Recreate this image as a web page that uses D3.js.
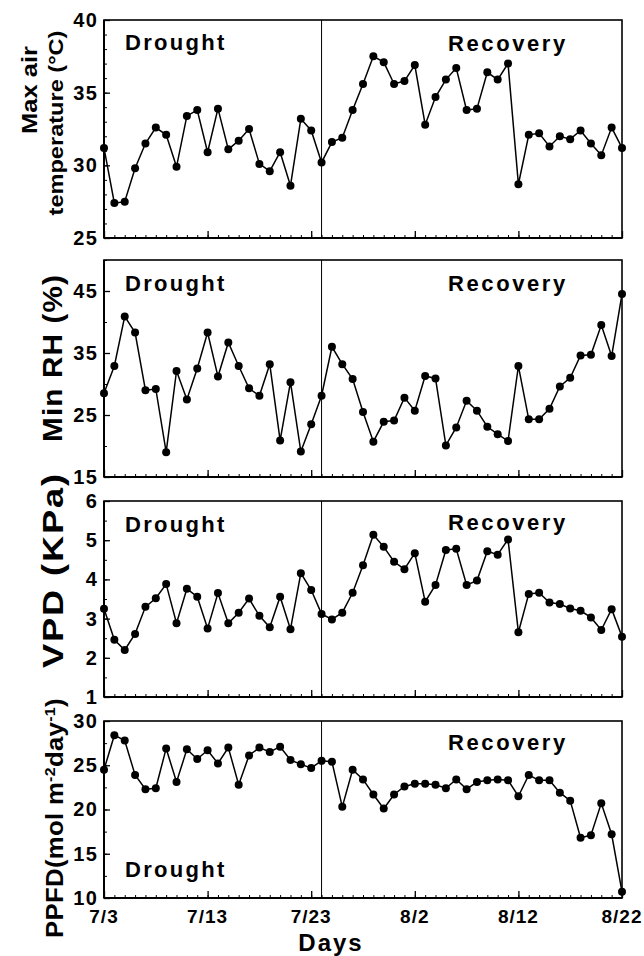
<!DOCTYPE html>
<html>
<head>
<meta charset="utf-8">
<script src="https://cdn.jsdelivr.net/npm/d3@7"></script>
<style>
  body { margin: 0; background: #fff; }
  svg { display: block; font-family: "Liberation Sans", Arial, sans-serif; font-weight: bold; }
</style>
</head>
<body>
<div id="chart"></div>
<script>
// Days of the experiment, 7/3 to 8/22
const firstDay = new Date(2010, 6, 3);
const lastDay = new Date(2010, 7, 22);
const days = d3.timeDay.range(firstDay, d3.timeDay.offset(lastDay, 1));
const xTickDays = ["7/3", "7/13", "7/23", "8/2", "8/12", "8/22"];
const switchDay = new Date(2010, 6, 24);

// Daily values
const maxTemp = [31.2, 27.4, 27.5, 29.8, 31.5, 32.6, 32.1, 29.9, 33.4, 33.8,
  30.9, 33.9, 31.1, 31.7, 32.5, 30.1, 29.6, 30.9, 28.6, 33.2,
  32.4, 30.2, 31.6, 31.9, 33.8, 35.6, 37.5, 37.1, 35.6, 35.8,
  36.9, 32.8, 34.7, 35.9, 36.7, 33.8, 33.9, 36.4, 35.9, 37.0,
  28.7, 32.1, 32.2, 31.3, 32.0, 31.8, 32.4, 31.5, 30.7, 32.6, 31.2];
const minRH = [28.5, 32.9, 40.9, 38.3, 29.0, 29.2, 19.0, 32.1, 27.5, 32.5,
  38.3, 31.2, 36.7, 32.9, 29.3, 28.1, 33.2, 20.9, 30.3, 19.1,
  23.5, 28.1, 36.0, 33.2, 30.8, 25.5, 20.7, 23.9, 24.1, 27.8,
  25.7, 31.3, 30.9, 20.1, 23.0, 27.3, 25.7, 23.1, 21.9, 20.8,
  32.9, 24.3, 24.3, 26.0, 29.6, 31.0, 34.6, 34.7, 39.5, 34.5, 44.5];
const vpd = [3.25, 2.46, 2.2, 2.61, 3.3, 3.52, 3.88, 2.88, 3.76, 3.56,
  2.75, 3.65, 2.88, 3.15, 3.51, 3.07, 2.78, 3.56, 2.73, 4.16,
  3.73, 3.12, 2.98, 3.15, 3.66, 4.36, 5.14, 4.83, 4.45, 4.26,
  4.67, 3.43, 3.86, 4.75, 4.78, 3.86, 3.97, 4.72, 4.63, 5.02,
  2.65, 3.63, 3.66, 3.41, 3.37, 3.26, 3.2, 3.03, 2.71, 3.24, 2.54];
const ppfd = [24.5, 28.4, 27.8, 23.9, 22.3, 22.4, 26.9, 23.1, 26.8, 25.7,
  26.7, 25.2, 27.0, 22.8, 26.1, 27.0, 26.5, 27.1, 25.6, 25.1,
  24.7, 25.5, 25.4, 20.3, 24.5, 23.4, 21.7, 20.1, 21.7, 22.6,
  22.9, 22.9, 22.8, 22.4, 23.4, 22.3, 23.1, 23.3, 23.4, 23.3,
  21.5, 23.9, 23.3, 23.3, 21.9, 21.0, 16.8, 17.1, 20.7, 17.2, 10.7];

// Y axis ticks for each panel
const tempTicks = [25, 30, 35, 40];
const rhTicks = [15, 25, 35, 45];
const vpdTicks = [1, 2, 3, 4, 5, 6];
const ppfdTicks = [10, 15, 20, 25, 30];

const width = 644, height = 956;
const left = 104, right = 622;

const panels = [
  { values: maxTemp, domain: [25, 40], ticks: tempTicks, minor: 1, top: 20, bottom: 238,
    drought: 50, recovery: 51 },
  { values: minRH, domain: [15, 50], ticks: rhTicks, minor: 5, top: 260, bottom: 477,
    drought: 291, recovery: 291 },
  { values: vpd, domain: [1, 6], ticks: vpdTicks, minor: 0.5, top: 501, bottom: 697,
    drought: 532, recovery: 530 },
  { values: ppfd, domain: [10, 30], ticks: ppfdTicks, minor: 2.5, top: 721, bottom: 898,
    drought: 877, recovery: 750 }
];

const svg = d3.select("#chart").append("svg")
  .attr("width", width)
  .attr("height", height);

const x = d3.scaleTime()
  .domain([firstDay, lastDay])
  .range([left, right]);

const parseTick = d3.timeParse("%Y/%m/%d");
const xTickDates = xTickDays.map(t => parseTick("2010/" + t));

panels.forEach((p, i) => {
  const y = d3.scaleLinear().domain(p.domain).range([p.bottom, p.top]);
  const g = svg.append("g");

  // minor ticks on x (every day) and on y, drawn inward
  g.append("g")
    .attr("transform", `translate(0,${p.bottom})`)
    .call(d3.axisTop(x).ticks(d3.timeDay.every(1)).tickSize(3).tickFormat(""))
    .call(a => a.select(".domain").remove())
    .selectAll("line").attr("stroke", "#000").attr("stroke-width", 1);

  g.append("g")
    .attr("transform", `translate(0,${p.bottom})`)
    .call(d3.axisTop(x).tickValues(xTickDates).tickSize(7).tickFormat(""))
    .call(a => a.select(".domain").remove())
    .selectAll("line").attr("stroke", "#000").attr("stroke-width", 1.3);

  const minorY = d3.range(p.domain[0], p.domain[1] + 1e-9, p.minor);
  g.append("g")
    .attr("transform", `translate(${left},0)`)
    .call(d3.axisRight(y).tickValues(minorY).tickSize(3).tickFormat(""))
    .call(a => a.select(".domain").remove())
    .selectAll("line").attr("stroke", "#000").attr("stroke-width", 1);

  const yAxis = g.append("g")
    .attr("transform", `translate(${left},0)`)
    .call(d3.axisRight(y).tickValues(p.ticks).tickSize(6).tickFormat(d3.format("d")));
  yAxis.select(".domain").remove();
  yAxis.selectAll("line").attr("stroke", "#000").attr("stroke-width", 1.3);
  yAxis.selectAll("text")
    .attr("x", -6)
    .attr("text-anchor", "end")
    .attr("font-size", 20)
    .attr("font-family", "Liberation Sans, Arial, sans-serif")
    .attr("font-weight", "bold")
    .attr("letter-spacing", 1.2)
    .attr("fill", "#000");

  // frame
  g.append("rect")
    .attr("x", left).attr("y", p.top)
    .attr("width", right - left).attr("height", p.bottom - p.top)
    .attr("fill", "none").attr("stroke", "#000").attr("stroke-width", 1.6);
  g.append("line")
    .attr("x1", left).attr("x2", right).attr("y1", p.bottom).attr("y2", p.bottom)
    .attr("stroke", "#000").attr("stroke-width", 2.2);
  g.append("line")
    .attr("x1", left).attr("x2", left).attr("y1", p.top).attr("y2", p.bottom)
    .attr("stroke", "#000").attr("stroke-width", 2);

  // drought / recovery boundary
  g.append("line")
    .attr("x1", x(switchDay)).attr("x2", x(switchDay))
    .attr("y1", p.top).attr("y2", p.bottom)
    .attr("stroke", "#000").attr("stroke-width", 1);

  // the series
  const line = d3.line()
    .x((d, j) => x(days[j]))
    .y(d => y(d));

  g.append("path")
    .datum(p.values)
    .attr("d", line)
    .attr("fill", "none")
    .attr("stroke", "#000")
    .attr("stroke-width", 1.5);

  g.selectAll("circle")
    .data(p.values)
    .enter()
    .append("circle")
    .attr("cx", (d, j) => x(days[j]))
    .attr("cy", d => y(d))
    .attr("r", 4)
    .attr("fill", "#000");

  // period labels
  g.append("text")
    .attr("x", 125).attr("y", p.drought)
    .attr("font-size", 22).attr("letter-spacing", 2.3)
    .text("Drought");
  g.append("text")
    .attr("x", 448).attr("y", p.recovery)
    .attr("font-size", 22).attr("letter-spacing", 2.6)
    .text("Recovery");
});

// x tick labels under the last panel
svg.append("g")
  .selectAll("text")
  .data(xTickDates)
  .enter()
  .append("text")
  .attr("x", d => x(d))
  .attr("y", 923)
  .attr("text-anchor", "middle")
  .attr("font-size", 19)
  .attr("letter-spacing", 1)
  .text((d, i) => xTickDays[i]);

svg.append("text")
  .attr("x", 331).attr("y", 951)
  .attr("text-anchor", "middle")
  .attr("font-size", 24)
  .attr("letter-spacing", 2)
  .text("Days");

// y axis titles, stretched or squeezed to the length they have in the figure
function yTitle(parts, bx, cy, size, spacing, len) {
  const t = svg.append("text")
    .attr("font-size", size)
    .attr("letter-spacing", spacing)
    .attr("text-anchor", "middle");
  parts.forEach(pt => {
    const s = t.append("tspan").text(pt.text);
    if (pt.sup) s.attr("font-size", size * 0.62).attr("baseline-shift", "super");
  });
  const natural = t.node().getComputedTextLength();
  t.attr("transform", `translate(${bx},${cy}) rotate(-90) scale(${len / natural},1)`);
}

yTitle([{ text: "Max air" }], 37, 90, 22, 0, 88);
yTitle([{ text: "temperature (°C)" }], 63, 123, 21, 0, 185);
yTitle([{ text: "Min RH (%)" }], 62, 358, 27, 1, 168);
yTitle([{ text: "VPD (KPa)" }], 63, 570, 29, 1.5, 196);
yTitle([{ text: "PPFD(mol m" }, { text: "-2", sup: true }, { text: "day" },
  { text: "-1", sup: true }, { text: ")" }], 63, 818, 23, 0.3, 240);
</script>
</body>
</html>
